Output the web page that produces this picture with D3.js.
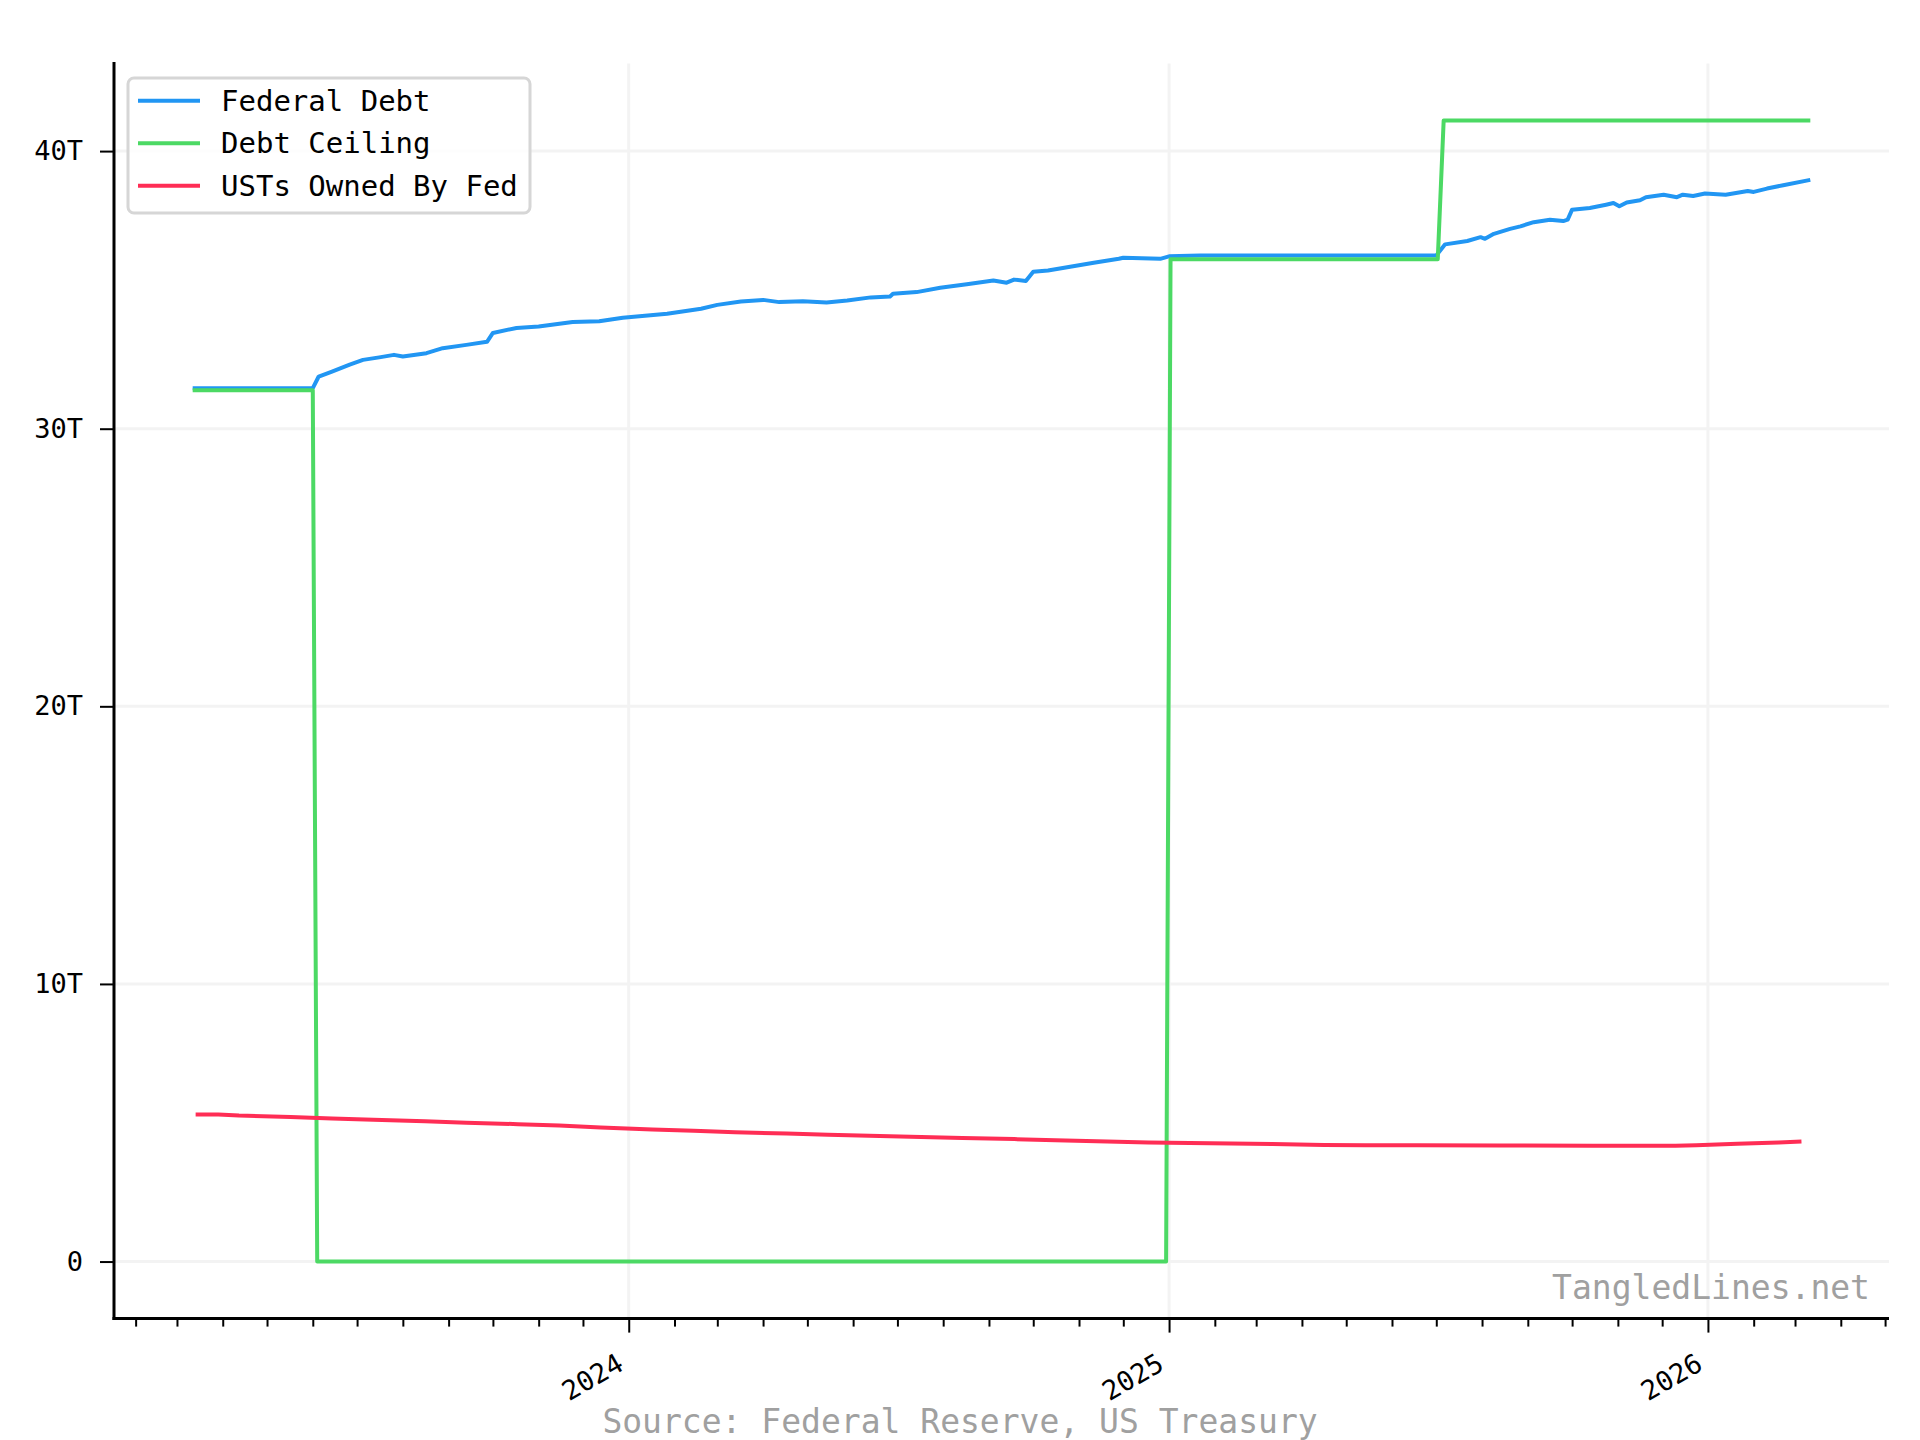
<!DOCTYPE html>
<html>
<head>
<meta charset="utf-8">
<script src="https://cdn.jsdelivr.net/npm/d3@7"></script>
<style>
  body { margin: 0; background: #fff; }
  svg text { font-family: "DejaVu Sans Mono", monospace; }
</style>
</head>
<body>
<div id="chart"></div>
<script>
// Federal debt (trillions USD)
const debtDates = [
  "2023-03-13", "2023-06-01", "2023-06-05", "2023-06-14", "2023-06-26", "2023-07-05",
  "2023-07-16", "2023-07-26", "2023-08-01", "2023-08-17", "2023-08-28", "2023-09-13",
  "2023-09-27", "2023-10-01", "2023-10-17", "2023-11-01", "2023-11-24", "2023-12-12",
  "2023-12-28", "2024-01-27", "2024-02-19", "2024-03-01", "2024-03-17", "2024-04-01",
  "2024-04-12", "2024-04-28", "2024-05-14", "2024-05-28", "2024-06-13", "2024-06-26",
  "2024-06-28", "2024-07-14", "2024-07-30", "2024-08-17", "2024-09-04", "2024-09-13",
  "2024-09-18", "2024-09-26", "2024-10-01", "2024-10-11", "2024-10-29", "2024-11-11",
  "2024-11-28", "2024-12-01", "2024-12-26", "2025-01-01", "2025-01-22", "2025-07-01",
  "2025-07-07", "2025-07-22", "2025-07-31", "2025-08-03", "2025-08-09", "2025-08-20",
  "2025-08-27", "2025-09-05", "2025-09-16", "2025-09-25", "2025-09-28", "2025-10-01",
  "2025-10-13", "2025-10-24", "2025-10-29", "2025-11-02", "2025-11-07", "2025-11-16",
  "2025-11-20", "2025-12-02", "2025-12-11", "2025-12-15", "2025-12-22", "2025-12-30",
  "2026-01-13", "2026-01-28", "2026-02-01", "2026-02-10", "2026-02-21", "2026-03-10"
];
const debtValues = [
  31.46, 31.46, 31.88, 32.06, 32.31, 32.48,
  32.57, 32.66, 32.60, 32.72, 32.90, 33.02,
  33.13, 33.45, 33.63, 33.68, 33.84, 33.87,
  34.00, 34.14, 34.32, 34.46, 34.58, 34.64,
  34.56, 34.59, 34.55, 34.62, 34.73, 34.76,
  34.86, 34.92, 35.08, 35.20, 35.34, 35.26,
  35.37, 35.32, 35.65, 35.70, 35.86, 35.98,
  36.12, 36.16, 36.12, 36.21, 36.24, 36.24,
  36.64, 36.76, 36.90, 36.84, 37.02, 37.20,
  37.29, 37.44, 37.53, 37.48, 37.53, 37.89,
  37.95, 38.07, 38.13, 38.01, 38.15, 38.23,
  38.34, 38.43, 38.34, 38.43, 38.38, 38.47,
  38.43, 38.56, 38.53, 38.65, 38.77, 38.95
];

// Statutory debt ceiling (0 while suspended)
const ceilingDates = [
  "2023-03-13", "2023-06-01", "2023-06-04", "2024-12-30",
  "2025-01-02", "2025-07-02", "2025-07-06", "2026-03-10"
];
const ceilingValues = [31.381, 31.381, 0, 0, 36.104, 36.104, 41.1, 41.1];

// Treasuries held by the Fed
const fedDates = [
  "2023-03-15", "2023-03-29", "2023-04-12", "2023-05-17", "2023-06-14", "2023-07-12",
  "2023-08-16", "2023-09-13", "2023-10-18", "2023-11-15", "2023-12-13", "2024-01-17",
  "2024-02-14", "2024-03-13", "2024-04-17", "2024-05-15", "2024-06-12", "2024-07-17",
  "2024-08-14", "2024-09-18", "2024-10-16", "2024-11-13", "2024-12-18", "2025-01-15",
  "2025-02-12", "2025-03-12", "2025-04-16", "2025-05-14", "2025-06-18", "2025-08-13",
  "2025-10-15", "2025-12-10", "2025-12-24", "2026-01-21", "2026-02-18", "2026-03-04"
];
const fedValues = [
  5.30, 5.30, 5.26, 5.21, 5.15, 5.11,
  5.05, 5.00, 4.95, 4.90, 4.83, 4.76,
  4.71, 4.66, 4.61, 4.57, 4.53, 4.49,
  4.45, 4.41, 4.37, 4.33, 4.29, 4.27,
  4.25, 4.23, 4.20, 4.19, 4.185, 4.18,
  4.175, 4.17, 4.19, 4.24, 4.29, 4.32
];

const seriesNames = ["Federal Debt", "Debt Ceiling", "USTs Owned By Fed"];
const seriesColors = ["#2196F3", "#4CD964", "#FF2D55"];
const yTicks = [0, 10, 20, 30, 40];

window.onload = () => {
  const config = {
    width: 1920,
    height: 1440,
    plot: { left: 114, right: 1889, top: 63.5, bottom: 1318.6 },
    lineWidth: 4
  };

  const parse = d3.timeParse("%Y-%m-%d");
  const toPoints = (dates, values) => dates.map((d, i) => ({ date: parse(d), value: values[i] }));

  const series = [
    toPoints(debtDates, debtValues),
    toPoints(ceilingDates, ceilingValues),
    toPoints(fedDates, fedValues)
  ];
  const all = series.flat();

  // matplotlib-style 5% margins on both axes
  const [x0, x1] = d3.extent(all, d => d.date);
  const xPad = (x1 - x0) * 0.05;
  const [y0, y1] = d3.extent(all, d => d.value);
  const yPad = (y1 - y0) * 0.05;

  const xScale = d3.scaleTime()
    .domain([new Date(+x0 - xPad), new Date(+x1 + xPad)])
    .range([config.plot.left, config.plot.right]);

  const yScale = d3.scaleLinear()
    .domain([y0 - yPad, y1 + yPad])
    .range([config.plot.bottom, config.plot.top]);

  const svg = d3.select("#chart")
    .append("svg")
    .attr("width", config.width)
    .attr("height", config.height);

  const years = d3.timeYear.range(xScale.domain()[0], xScale.domain()[1]).filter(d => +d > +xScale.domain()[0]);
  const months = d3.timeMonth.range(xScale.domain()[0], xScale.domain()[1])
    .filter(d => d.getMonth() !== 0 && +d > +xScale.domain()[0]);

  // Grid lines
  const grid = svg.append("g").attr("stroke", "#f3f3f3").attr("stroke-width", 3);
  yTicks.forEach(t => {
    grid.append("line")
      .attr("x1", config.plot.left).attr("x2", config.plot.right)
      .attr("y1", yScale(t)).attr("y2", yScale(t));
  });
  years.forEach(t => {
    grid.append("line")
      .attr("x1", xScale(t)).attr("x2", xScale(t))
      .attr("y1", config.plot.top).attr("y2", config.plot.bottom);
  });

  // Lines (projecting caps, like matplotlib)
  const line = d3.line()
    .x(d => xScale(d.date))
    .y(d => yScale(d.value));

  series.forEach((s, i) => {
    svg.append("path")
      .datum(s)
      .attr("fill", "none")
      .attr("stroke", seriesColors[i])
      .attr("stroke-width", config.lineWidth)
      .attr("stroke-linejoin", "round")
      .attr("stroke-linecap", "square")
      .attr("d", line);
  });

  // Y axis
  const yAxis = svg.append("g")
    .attr("transform", `translate(${config.plot.left},0)`)
    .call(d3.axisLeft(yScale)
      .tickValues(yTicks)
      .tickSize(14)
      .tickPadding(17)
      .tickFormat(v => v === 0 ? "0" : v + "T"));
  yAxis.select(".domain").remove();
  yAxis.selectAll(".tick line").attr("stroke", "#000").attr("stroke-width", 2);
  yAxis.selectAll("text").attr("font-size", 27).attr("fill", "#000")
    .attr("font-family", "DejaVu Sans Mono");

  // X axis: major ticks on years, minor ticks on months
  const xMinor = svg.append("g")
    .attr("transform", `translate(0,${config.plot.bottom})`)
    .call(d3.axisBottom(xScale).tickValues(months).tickSize(8).tickFormat(""));
  xMinor.select(".domain").remove();
  xMinor.selectAll(".tick line").attr("stroke", "#000").attr("stroke-width", 2);

  const xAxis = svg.append("g")
    .attr("transform", `translate(0,${config.plot.bottom})`)
    .call(d3.axisBottom(xScale).tickValues(years).tickSize(14).tickFormat(d3.timeFormat("%Y")));
  xAxis.select(".domain").remove();
  xAxis.selectAll(".tick line").attr("stroke", "#000").attr("stroke-width", 2);
  xAxis.selectAll(".tick text")
    .attr("font-size", 27)
    .attr("fill", "#000")
    .attr("font-family", "DejaVu Sans Mono")
    .attr("text-anchor", "end")
    .attr("dominant-baseline", "hanging")
    .attr("dy", 0)
    .attr("y", 0)
    .attr("transform", "translate(-14,33) rotate(-30)");

  // Spines (left and bottom only)
  svg.append("line")
    .attr("x1", config.plot.left).attr("x2", config.plot.left)
    .attr("y1", config.plot.top - 1.5).attr("y2", config.plot.bottom + 1.5)
    .attr("stroke", "#000").attr("stroke-width", 3);
  svg.append("line")
    .attr("x1", config.plot.left - 1.5).attr("x2", config.plot.right)
    .attr("y1", config.plot.bottom).attr("y2", config.plot.bottom)
    .attr("stroke", "#000").attr("stroke-width", 3);

  // Legend
  const legend = svg.append("g");
  legend.append("rect")
    .attr("x", 128).attr("y", 78)
    .attr("width", 402).attr("height", 135)
    .attr("rx", 6)
    .attr("fill", "#fff").attr("fill-opacity", 0.8)
    .attr("stroke", "#d6d6d6").attr("stroke-width", 3);

  seriesNames.forEach((name, i) => {
    const yRow = 100.7 + i * 42.5;
    legend.append("line")
      .attr("x1", 138).attr("x2", 200)
      .attr("y1", yRow).attr("y2", yRow)
      .attr("stroke", seriesColors[i])
      .attr("stroke-width", 4);
    legend.append("text")
      .attr("x", 221)
      .attr("y", yRow)
      .attr("dominant-baseline", "central")
      .attr("font-size", 29)
      .attr("fill", "#000")
      .text(name);
  });

  // Watermark and source note
  svg.append("text")
    .attr("x", 1870).attr("y", 1299)
    .attr("text-anchor", "end")
    .attr("font-size", 33)
    .attr("fill", "#a0a0a0")
    .text("TangledLines.net");

  svg.append("text")
    .attr("x", 960).attr("y", 1433)
    .attr("text-anchor", "middle")
    .attr("font-size", 33)
    .attr("fill", "#a0a0a0")
    .text("Source: Federal Reserve, US Treasury");
};
</script>
</body>
</html>
